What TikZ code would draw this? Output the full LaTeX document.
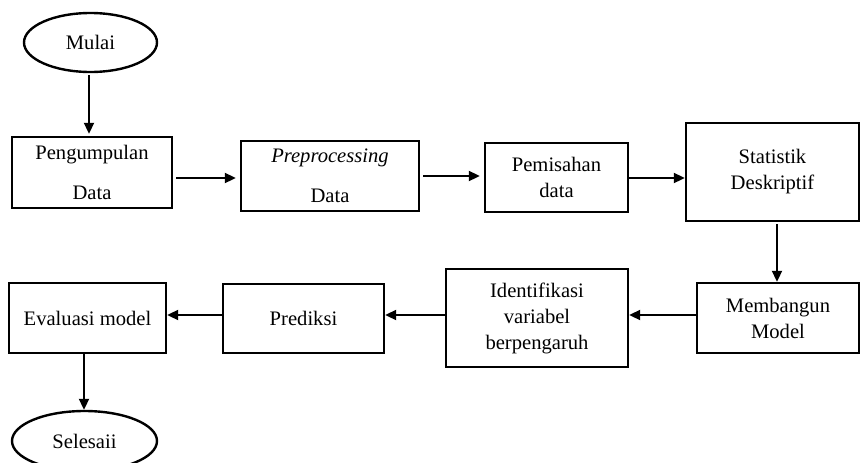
\documentclass[tikz,border=0pt]{standalone}
\usepackage{fontspec}
\setmainfont{Liberation Serif}
\usetikzlibrary{arrows.meta,shapes.geometric}
\begin{document}
\begin{tikzpicture}[x=1pt,y=-1pt,
  every node/.style={font=\fontsize{20.6}{26}\selectfont, inner sep=0pt},
  procbox/.style={draw, line width=2.4pt, rectangle, align=center},
  term/.style={draw, line width=2.4pt, ellipse},
  arr/.style={line width=2pt, -{Triangle[length=11pt,width=10pt]}}]
\useasboundingbox (0,0) rectangle (860,463);
\node[term, minimum width=133pt, minimum height=59pt] (mulai) at (90.5,42.5) {Mulai};
\node[procbox, minimum width=160pt, minimum height=71pt] (peng) at (92,172.5) {Pengumpulan\\[14pt]Data};
\node[procbox, minimum width=178pt, minimum height=70pt] (prep) at (330,176) {\textit{Preprocessing}\\[14pt]Data};
\node[procbox, minimum width=143pt, minimum height=69pt] (pemi) at (556.5,177.5) {Pemisahan\\data};
\node[procbox, minimum width=173pt, minimum height=98pt] (stat) at (772.5,172) {Statistik\\Deskriptif};
\node[procbox, minimum width=162pt, minimum height=70pt] (memb) at (778,318) {Membangun\\Model};
\node[procbox, minimum width=182pt, minimum height=98pt] (iden) at (537,318) {Identifikasi\\variabel\\berpengaruh};
\node[procbox, minimum width=161pt, minimum height=69pt] (pred) at (303.5,318.5) {Prediksi};
\node[procbox, minimum width=157pt, minimum height=70pt] (eval) at (87.5,318) {Evaluasi model};
\node[term, minimum width=145pt, minimum height=60pt] (sele) at (84.5,441) {Selesaii};

\coordinate (ya) at (0,178);
\coordinate (yb) at (0,176);
\coordinate (yc) at (0,315);
\coordinate (xa) at (89,0);
\coordinate (xb) at (777,0);
\coordinate (xc) at (84,0);

\draw[arr] ([yshift=-2pt]mulai.south -| xa) -- ([yshift=2pt]peng.north -| xa);
\draw[arr] ([xshift=3pt]peng.east |- ya) -- ([xshift=-4pt]prep.west |- ya);
\draw[arr] ([xshift=3pt]prep.east |- yb) -- ([xshift=-4pt]pemi.west |- yb);
\draw[arr] (pemi.east |- ya) -- (stat.west |- ya);
\draw[arr] ([yshift=-2pt]stat.south -| xb) -- (memb.north -| xb);
\draw[arr] (memb.west |- yc) -- (iden.east |- yc);
\draw[arr] (iden.west |- yc) -- (pred.east |- yc);
\draw[arr] (pred.west |- yc) -- (eval.east |- yc);
\draw[arr] (eval.south -| xc) -- (sele.north -| xc);
\end{tikzpicture}
\end{document}
